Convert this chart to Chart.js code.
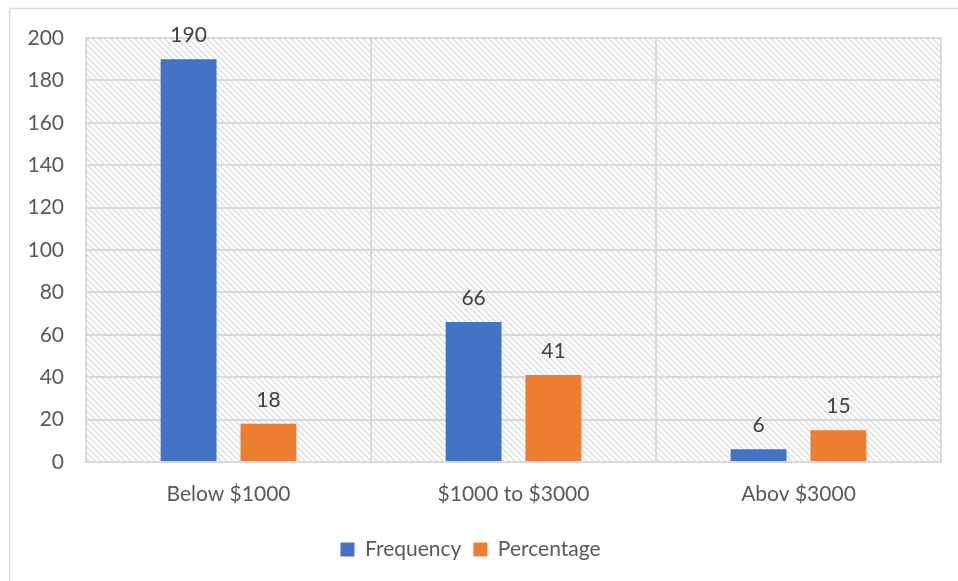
<!DOCTYPE html>
<html>
<head>
<meta charset="utf-8">
<title>Income groups</title>
<script src="https://cdn.jsdelivr.net/npm/chart.js@4"></script>
<style>
  html, body { margin: 0; padding: 0; background: #fff; }
  #wrap { width: 958px; height: 581px; position: relative; }
</style>
</head>
<body>
<div id="wrap"><canvas id="incomeChart"></canvas></div>
<script>
// Income bands and counts
const categories = ['Below $1000', '$1000 to $3000', 'Abov $3000'];
const frequency = [190, 66, 6];
const percentage = [18, 41, 15];
const yTicks = [0, 20, 40, 60, 80, 100, 120, 140, 160, 180, 200];

const textColor = '#595959';
const gridColor = '#d9d9d9';
const fontFamily = 'Lato, "Open Sans", sans-serif';
const fontSize = 21;

// Diagonal hatch tile for the plot background
function makeHatch() {
  const tile = document.createElement('canvas');
  tile.width = 6;
  tile.height = 6;
  const c = tile.getContext('2d');
  c.strokeStyle = '#dcdcdc';
  c.lineWidth = 1.3;
  c.beginPath();
  c.moveTo(-1, -1); c.lineTo(7, 7);
  c.moveTo(-4, 2); c.lineTo(4, 10);
  c.moveTo(2, -4); c.lineTo(10, 4);
  c.stroke();
  return tile;
}

const backdrop = {
  id: 'backdrop',
  beforeDraw(chart) {
    const { ctx, chartArea: a } = chart;
    ctx.save();
    // outer frame
    ctx.strokeStyle = gridColor;
    ctx.lineWidth = 1.5;
    ctx.strokeRect(9.5, 8.5, 1200, 1200);
    // hatched plot area
    ctx.fillStyle = ctx.createPattern(makeHatch(), 'repeat');
    ctx.fillRect(a.left, a.top, a.right - a.left, a.bottom - a.top);
    ctx.restore();
  }
};

// Value labels above each bar
const valueLabels = {
  id: 'valueLabels',
  afterDatasetsDraw(chart) {
    const ctx = chart.ctx;
    ctx.save();
    ctx.fillStyle = '#404040';
    ctx.font = fontSize + 'px ' + fontFamily;
    ctx.textAlign = 'center';
    ctx.textBaseline = 'alphabetic';
    chart.data.datasets.forEach((ds, i) => {
      chart.getDatasetMeta(i).data.forEach((bar, j) => {
        ctx.fillText(String(ds.data[j]), bar.x, bar.y - 17);
      });
    });
    ctx.restore();
  }
};

new Chart(document.getElementById('incomeChart'), {
  type: 'bar',
  data: {
    labels: categories,
    datasets: [
      { label: 'Frequency', data: frequency, backgroundColor: '#4472C4' },
      { label: 'Percentage', data: percentage, backgroundColor: '#ED7D31' }
    ]
  },
  options: {
    responsive: true,
    maintainAspectRatio: false,
    animation: false,
    datasets: { bar: { categoryPercentage: 0.56, barPercentage: 0.7 } },
    layout: { padding: { top: 38, right: 17, bottom: 11, left: 0 } },
    plugins: {
      legend: {
        position: 'bottom',
        labels: {
          color: textColor,
          font: { family: fontFamily, size: fontSize },
          boxWidth: 14,
          boxHeight: 14,
          padding: 12
        }
      },
      tooltip: { enabled: false }
    },
    scales: {
      x: {
        grid: { color: gridColor, lineWidth: 2, drawTicks: false },
        border: { color: gridColor, width: 2 },
        ticks: { color: textColor, font: { family: fontFamily, size: fontSize }, padding: 20 },
        afterFit(scale) { scale.height = 65; }
      },
      y: {
        min: 0,
        max: 200,
        grid: { color: gridColor, lineWidth: 2, drawTicks: false },
        border: { color: gridColor, width: 2 },
        afterBuildTicks(scale) { scale.ticks = yTicks.map(v => ({ value: v })); },
        ticks: { color: textColor, font: { family: fontFamily, size: fontSize }, padding: 22 },
        afterFit(scale) { scale.width = 86; }
      }
    }
  },
  plugins: [backdrop, valueLabels]
});
</script>
</body>
</html>
